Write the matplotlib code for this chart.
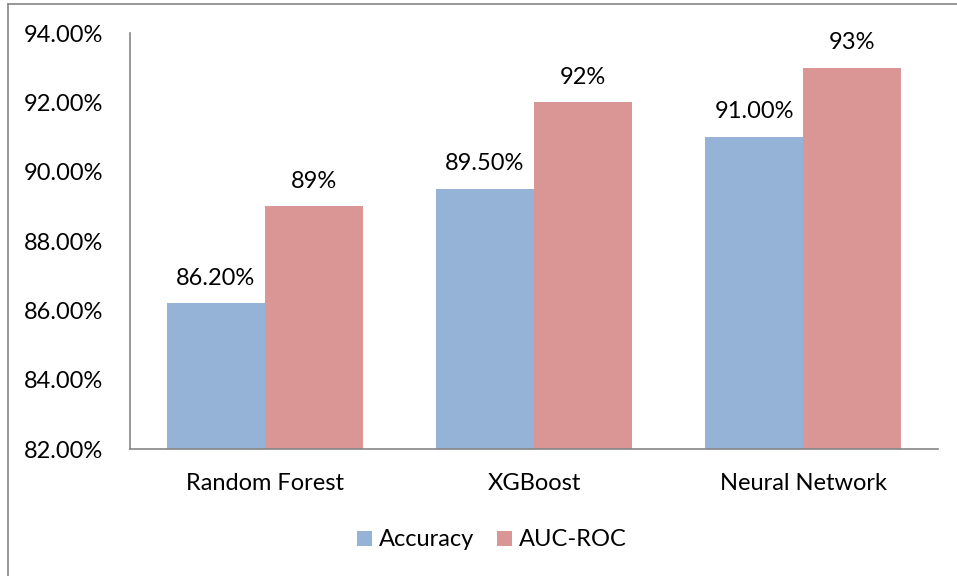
import numpy as np
import matplotlib.pyplot as plt
from matplotlib.lines import Line2D

models = ["Random Forest", "XGBoost", "Neural Network"]
accuracy = [86.2, 89.5, 91.0]
auc_roc = [89, 92, 93]
accuracy_labels = ["86.20%", "89.50%", "91.00%"]
auc_labels = ["89%", "92%", "93%"]
y_ticks = [82, 84, 86, 88, 90, 92, 94]

BLUE = "#95B3D7"
RED = "#D99694"
FS = 17

plt.rcParams["font.family"] = ["Lato", "DejaVu Sans"]

W, H = 957, 576
fig = plt.figure(figsize=(W / 100, H / 100), dpi=100)
ax = fig.add_axes([130 / W, 1 - 449 / H, (938 - 130) / W, (449 - 33) / H])

x = np.arange(len(models))
bw = 0.364
ax.bar(x - bw / 2, np.array(accuracy) - 82, bw, bottom=82, color=BLUE, label="Accuracy")
ax.bar(x + bw / 2, np.array(auc_roc) - 82, bw, bottom=82, color=RED, label="AUC-ROC")

# value labels above each bar
for xi, v, lab in zip(x, accuracy, accuracy_labels):
    ax.annotate(lab, (xi - bw / 2, v), xytext=(0, 13.5), textcoords="offset points",
                ha="center", va="baseline", fontsize=FS)
for xi, v, lab in zip(x, auc_roc, auc_labels):
    ax.annotate(lab, (xi + bw / 2, v), xytext=(0, 13.5), textcoords="offset points",
                ha="center", va="baseline", fontsize=FS)

ax.set_xlim(-0.5, 2.5)
ax.set_ylim(82, 94)
ax.set_yticks(y_ticks)
ax.set_yticklabels([f"{t:.2f}%" for t in y_ticks], fontsize=FS)
ax.set_xticks(x)
ax.set_xticklabels(models, fontsize=FS)
ax.tick_params(length=0)
ax.tick_params(axis="y", pad=19)
ax.tick_params(axis="x", pad=17.5)
for s in ["top", "right"]:
    ax.spines[s].set_visible(False)
for s in ["left", "bottom"]:
    ax.spines[s].set_color("#868686")
    ax.spines[s].set_linewidth(1.2)

ax.legend(loc="center", bbox_to_anchor=(492 / W, 1 - 540 / H), bbox_transform=fig.transFigure,
          ncol=2, frameon=False, fontsize=FS, handlelength=0.62, handleheight=0.62,
          handletextpad=0.3, columnspacing=1.0)

# outer chart border
fig.add_artist(Line2D([8 / W, 8 / W], [0, 1 - 4 / H], transform=fig.transFigure, color="#868686", lw=1.2))
fig.add_artist(Line2D([8 / W, 1], [1 - 4 / H, 1 - 4 / H], transform=fig.transFigure, color="#868686", lw=1.2))

fig.savefig("out.png", dpi=100)
